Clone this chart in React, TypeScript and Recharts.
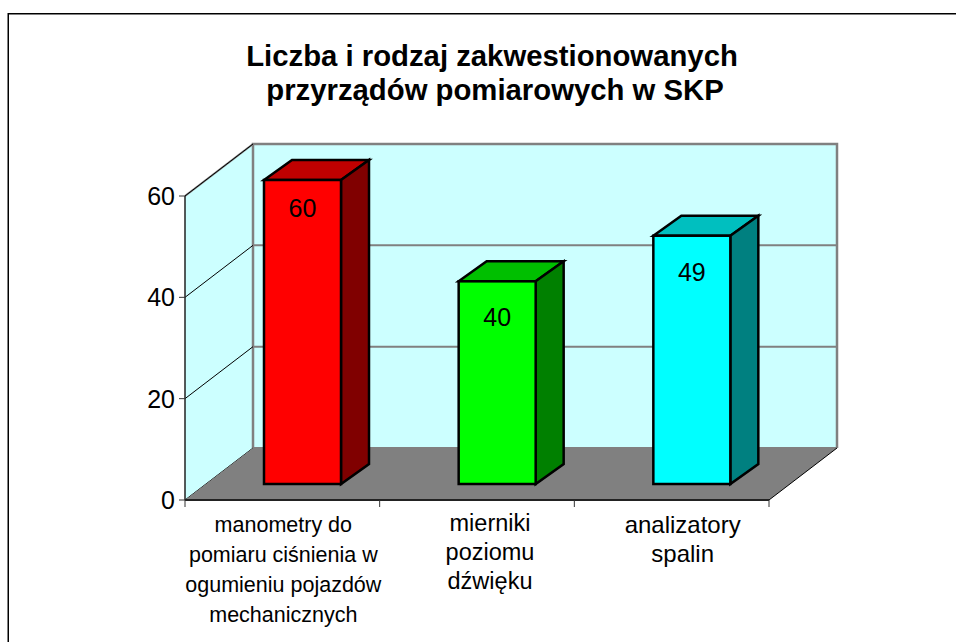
import React from 'react';
import { BarChart, Bar, XAxis, YAxis, CartesianGrid, LabelList, usePlotArea } from 'recharts';

const categories = ['manometry', 'mierniki', 'analizatory'];
const values = [60, 40, 49];
const tickLines = [
  ['manometry do', 'pomiaru ciśnienia w', 'ogumieniu pojazdów', 'mechanicznych'],
  ['mierniki', 'poziomu', 'dźwięku'],
  ['analizatory', 'spalin'],
];
const tickSizes = [21.5, 23.5, 24];
const tickShift = [1, 13, 11];
const tickDrop = [24, 23, 25];
const tickLead = [30, 29, 29];
const labelDrop = [37, 45, 45];
const yTicks = [0, 20, 40, 60];
const titleLines = ['Liczba i rodzaj zakwestionowanych', 'przyrządów pomiarowych w SKP'];

const frontColors = ['#ff0000', '#00ff00', '#00ffff'];
const topColors = ['#bf0000', '#00bf00', '#00bfbf'];
const sideColors = ['#800000', '#008000', '#008080'];

const data = categories.map((name, i) => ({ name, value: values[i] }));

const FONT = 'Arial, "Liberation Sans", sans-serif';
// depth of the fake 3D box
const DX = 68;
const DY = 52;
// bars stand in the middle of the floor
const BAR_DX = 20;
const BAR_DY = 16;
const BAR_DEPTH_X = 28;
const BAR_DEPTH_Y = 20;

function Walls() {
  const plot = usePlotArea();
  if (!plot) return null;
  const { x, y, width, height } = plot;
  const b = y + height;
  return (
    <g>
      <polygon points={`${x},${b} ${x + DX},${b - DY} ${x + DX},${y - DY} ${x},${y}`} fill="#ccffff" />
      <rect x={x + DX} y={y - DY} width={width} height={height} fill="#ccffff" />
      <line x1={x} y1={y} x2={x + DX} y2={y - DY} stroke="#808080" strokeWidth={2} />
      <polyline
        points={`${x + DX},${b - DY} ${x + DX},${y - DY} ${x + DX + width},${y - DY} ${x + DX + width},${b - DY}`}
        fill="none"
        stroke="#808080"
        strokeWidth={2.5}
      />
    </g>
  );
}

function Floor() {
  const plot = usePlotArea();
  if (!plot) return null;
  const { x, y, width, height } = plot;
  const b = y + height;
  return (
    <g>
      <polygon
        points={`${x},${b} ${x + width},${b} ${x + width + DX},${b - DY} ${x + DX},${b - DY}`}
        fill="#808080"
      />
      <line x1={x + width} y1={b} x2={x + width + DX} y2={b - DY} stroke="#000" strokeWidth={1} />
    </g>
  );
}

function gridLine(props: any) {
  const { x1, x2, y1, index } = props;
  return (
    <g key={index}>
      <line x1={x1} y1={y1} x2={x1 + DX} y2={y1 - DY} stroke="#000" strokeWidth={1} />
      <line x1={x1 + DX} y1={y1 - DY} x2={x2 + DX} y2={y1 - DY} stroke="#808080" strokeWidth={2} />
    </g>
  );
}

function Box(props: any) {
  const { x, y, width, height, index } = props;
  const l = x + BAR_DX;
  const t = y - BAR_DY;
  const r = l + width;
  const b = t + height;
  return (
    <g stroke="#000" strokeWidth={2.5} strokeLinejoin="miter">
      <polygon
        points={`${l},${t} ${l + BAR_DEPTH_X},${t - BAR_DEPTH_Y} ${r + BAR_DEPTH_X},${t - BAR_DEPTH_Y} ${r},${t}`}
        fill={topColors[index]}
      />
      <polygon
        points={`${r},${t} ${r + BAR_DEPTH_X},${t - BAR_DEPTH_Y} ${r + BAR_DEPTH_X},${b - BAR_DEPTH_Y} ${r},${b}`}
        fill={sideColors[index]}
      />
      <rect x={l} y={t} width={width} height={height} fill={frontColors[index]} />
    </g>
  );
}

function BoxLabel(props: any) {
  const { x, y, width, value, index } = props;
  return (
    <text
      x={x + width / 2 + BAR_DX}
      y={y - BAR_DY + labelDrop[index]}
      textAnchor="middle"
      fontFamily={FONT}
      fontSize={25}
      fill="#000"
    >
      {value}
    </text>
  );
}

function CategoryTick(props: any) {
  const { x, y, width, payload } = props;
  const i = payload.index;
  const band = width / categories.length;
  return (
    <g>
      <line x1={x - band / 2} y1={y - 8} x2={x - band / 2} y2={y - 1} stroke="#333" strokeWidth={1} />
      {i === categories.length - 1 && (
        <line x1={x + band / 2} y1={y - 8} x2={x + band / 2} y2={y - 1} stroke="#333" strokeWidth={1} />
      )}
      <text textAnchor="middle" fontFamily={FONT} fontSize={tickSizes[i]} fill="#000">
        {tickLines[i].map((line, k) => (
          <tspan key={k} x={x + tickShift[i]} y={y + tickDrop[i] + k * tickLead[i]}>
            {line}
          </tspan>
        ))}
      </text>
    </g>
  );
}

export default function App() {
  return (
    <div style={{ position: 'absolute', left: 0, top: 0, width: 956, height: 642, overflow: 'hidden', background: '#fff' }}>
      <BarChart
        width={956}
        height={642}
        data={data}
        margin={{ top: 196, right: 187, bottom: 0, left: 0 }}
        barCategoryGap={0}
      >
        <rect x={8.25} y={13.75} width={960} height={650} fill="#fff" stroke="#000" strokeWidth={1.5} />
        <text textAnchor="middle" fontFamily={FONT} fontSize={29.3} fontWeight="bold" fill="#000">
          <tspan x={492} y={66}>{titleLines[0]}</tspan>
          <tspan x={495} y={100}>{titleLines[1]}</tspan>
        </text>
        <Walls />
        <CartesianGrid vertical={false} horizontal={gridLine} stroke="#808080" zIndex={0} />
        <Floor />
        <XAxis
          dataKey="name"
          height={142}
          interval={0}
          axisLine={{ stroke: '#222', strokeWidth: 2 }}
          tickLine={false}
          tick={<CategoryTick />}
        />
        <YAxis
          width={185}
          domain={[0, 60]}
          ticks={yTicks}
          interval={0}
          axisLine={{ stroke: '#222', strokeWidth: 1.5 }}
          tickLine={{ stroke: '#333' }}
          tickSize={6}
          tickMargin={4}
          tick={{ fontFamily: FONT, fontSize: 25, fill: '#000' }}
        />
        <Bar dataKey="value" barSize={77} shape={<Box />} isAnimationActive={false}>
          <LabelList dataKey="value" content={<BoxLabel />} />
        </Bar>
      </BarChart>
    </div>
  );
}
